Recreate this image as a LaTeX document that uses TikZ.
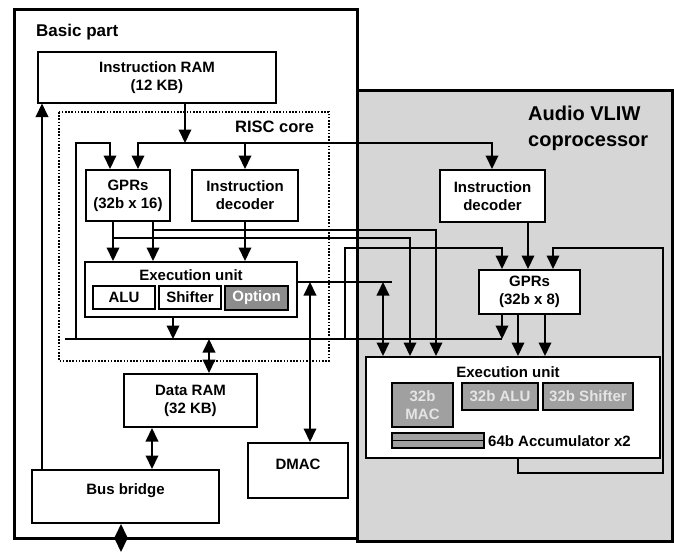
\documentclass[tikz,border=0pt]{standalone}
\usepackage{fontspec}
\setmainfont{Liberation Sans}
\usetikzlibrary{arrows.meta}

\definecolor{cofill}{HTML}{D6D6D6}
\definecolor{optfill}{HTML}{8C8C8C}
\definecolor{unitfill}{HTML}{A0A0A0}
\definecolor{unittext}{HTML}{E4E4E4}

\begin{document}
\begin{tikzpicture}[x=1pt,y=-1pt,
  lbl/.style={font=\fontsize{15}{18}\selectfont\bfseries, align=center},
  box/.style={draw, line width=2pt, fill=white, inner sep=0pt, lbl},
  sub/.style={draw, line width=1.6pt, inner sep=0pt, lbl},
  wire/.style={line width=2pt, line join=miter},
  tip/.style={Triangle[width=12.5pt,length=13.5pt]},
  arr/.style={wire, -{Triangle[width=12.5pt,length=13.5pt]}},
  darr/.style={wire, {Triangle[width=12.5pt,length=13.5pt]}-{Triangle[width=12.5pt,length=13.5pt]}},
  frame/.style={line width=3pt},
]
\useasboundingbox (0,0) rectangle (674,551);

% coprocessor area and basic part frame
\fill[cofill] (357,90) rectangle (672,541);
\draw[frame] (14,10) rectangle (357,538);
\draw[frame] (357,90) rectangle (672,541);

% RISC core boundary
\draw[line width=1.6pt, dash pattern=on 1.6pt off 1.6pt] (59,112) rectangle (329,361);

% titles
\node[anchor=base west, inner sep=0pt, font=\fontsize{17}{20}\selectfont\bfseries] (tbasic) at (36,37) {Basic part};
\node[anchor=base west, inner sep=0pt, font=\fontsize{16.5}{20}\selectfont\bfseries] (trisc) at (235,132) {RISC core};
\node[anchor=base west, inner sep=0pt, font=\fontsize{20}{24}\selectfont\bfseries] (tcop1) at (528,120) {Audio VLIW};
\node[anchor=base west, inner sep=0pt, font=\fontsize{20}{24}\selectfont\bfseries] (tcop2) at (528,146) {coprocessor};

% blocks of the basic part
\node[box, minimum width=238, minimum height=50] (iram) at (157,77.5) {Instruction RAM\\(12 KB)};
\node[box, minimum width=84, minimum height=51] (gpr1) at (128,195.5) {GPRs\\(32b x 16)};
\node[box, minimum width=106, minimum height=51] (idec1) at (245,195.5) {Instruction\\decoder};
\node[box, minimum width=212, minimum height=55] (exu1) at (191,289.5) {};
\node[lbl, inner sep=0pt] (exu1t) at (191,275) {Execution unit};
\node[sub, fill=white, minimum width=62, minimum height=23] (alu1) at (124,297.5) {ALU};
\node[sub, fill=white, minimum width=62, minimum height=23] (shf1) at (190,297.5) {Shifter};
\node[sub, fill=optfill, text=white, minimum width=63, minimum height=24] (opt) at (256.5,298) {Option};
\node[box, minimum width=133, minimum height=53] (dram) at (190.5,400.5) {Data RAM\\(32 KB)};
\node[box, minimum width=187, minimum height=53] (bb) at (125.5,496.5) {};
\node[lbl, inner sep=0pt] (bbt) at (125.5,491) {Bus bridge};
\node[box, minimum width=100, minimum height=55] (dmac) at (298,470.5) {};
\node[lbl, inner sep=0pt] (dmact) at (298,464) {DMAC};

% blocks of the coprocessor
\node[box, minimum width=105, minimum height=52] (idec2) at (492.5,196) {Instruction\\decoder};
\node[box, minimum width=101, minimum height=44] (gpr2) at (529.5,292) {GPRs\\(32b x 8)};
\node[box, minimum width=294, minimum height=101] (exu2) at (513,407.5) {};
\node[lbl, inner sep=0pt] (exu2t) at (508,372) {Execution unit};
\node[sub, fill=unitfill, text=unittext, minimum width=61, minimum height=44] (mac) at (422.5,405) {32b\\MAC};
\node[sub, fill=unitfill, text=unittext, minimum width=76, minimum height=27] (alu2) at (500,396.5) {32b ALU};
\node[sub, fill=unitfill, text=unittext, minimum width=90, minimum height=27] (shf2) at (588,396.5) {32b Shifter};
\node[sub, fill=unitfill, minimum width=92, minimum height=7.5] (acc1) at (438,436.75) {};
\node[sub, fill=unitfill, minimum width=92, minimum height=7.5] (acc2) at (438,444.25) {};
\node[lbl, inner sep=0pt, anchor=west] (acct) at (488,441) {64b Accumulator x2};

% instruction fetch
\draw[arr] (185,0 |- iram.south) -- (185,143);
\draw[arr] (492,143) -- (138,143) -- (138,0 |- gpr1.north);
\draw[arr] (138,143) -- (245,143) -- (idec1.north);
\draw[arr] (138,143) -- (492,143) -- (492,0 |- idec2.north);

% write-back into the RISC register file
\draw[arr] (76,339) -- (76,143) -- (110,143) -- (110,0 |- gpr1.north);

% RISC register file outputs
\draw[arr] (113,0 |- gpr1.south) -- (113,0 |- exu1.north);
\draw[arr] (153,0 |- gpr1.south) -- (153,0 |- exu1.north);
\draw[arr] (113,238) -- (410,238) -- (410,0 |- exu2.north);
\draw[arr] (153,230) -- (436,230) -- (436,0 |- exu2.north);

% decoder and execution unit of the RISC core
\draw[arr] (idec1.south) -- (245,0 |- exu1.north);
\draw[arr] (173,0 |- exu1.south) -- (173,339);

% internal bus
\draw[wire] (65,339) -- (502,339);
\draw[darr] (209,339) -- (209,0 |- dram.north);
\draw[darr] (152,0 |- dram.south) -- (152,0 |- bb.north);
\draw[darr] (121,0 |- bb.south) -- (121,552);
\draw[arr] (42,0 |- bb.north) -- (42,0 |- iram.south);

% execution unit side port
\draw[wire] (exu1.east |- 0,282) -- (392,282);
\draw[darr] (310,282) -- (310,0 |- dmac.north);
\draw[darr] (383,282) -- (383,0 |- exu2.north);

% coprocessor register file inputs
\draw[arr] (345,339) -- (345,248) -- (502,248) -- (502,0 |- gpr2.north);
\draw[arr] (528,0 |- idec2.south) -- (528,0 |- gpr2.north);
\draw[arr] (518,0 |- exu2.south) -- (518,473) -- (663,473) -- (663,248) -- (553,248) -- (553,0 |- gpr2.north);

% coprocessor register file outputs
\draw[arr] (502,0 |- gpr2.south) -- (502,339);
\draw[arr] (518,0 |- gpr2.south) -- (518,0 |- exu2.north);
\draw[arr] (545,0 |- gpr2.south) -- (545,0 |- exu2.north);
\end{tikzpicture}
\end{document}
